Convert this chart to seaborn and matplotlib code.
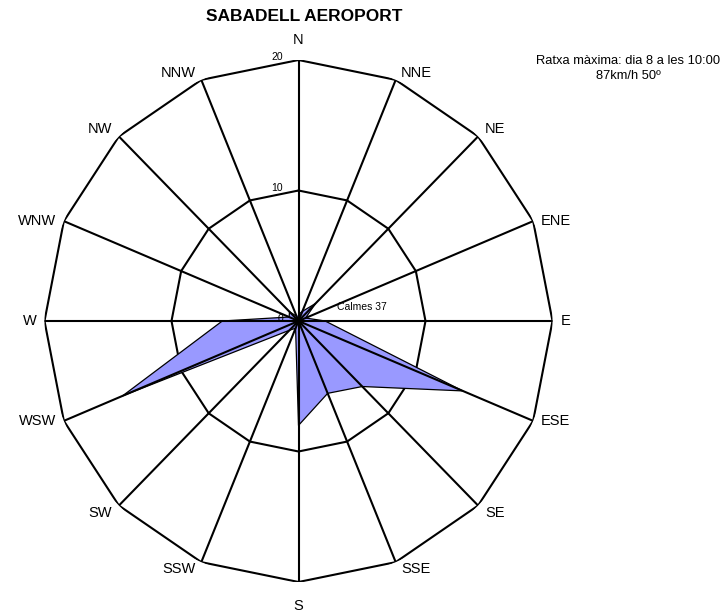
import numpy as np
import matplotlib
matplotlib.use('Agg')
import matplotlib.pyplot as plt
import seaborn as sns

# wind rose data (frequency per direction)
directions = ['N', 'NNE', 'NE', 'ENE', 'E', 'ESE', 'SE', 'SSE',
              'S', 'SSW', 'SW', 'WSW', 'W', 'WNW', 'NW', 'NNW']
values = [0.5, 0.8, 1.9, 0.6, 2.1, 14.0, 7.1, 6.0,
          8.0, 0.6, 1.0, 15.0, 6.0, 0.8, 1.0, 0.4]
ring_levels = [10, 20]
ring_labels = ['0', '10', '20']
title = 'SABADELL AEROPORT'
gust_text = 'Ratxa màxima: dia 8 a les 10:00\n87km/h 50º'
calm_text = 'Calmes 37'

sns.set_style('white')
plt.rcParams['font.family'] = ['Liberation Sans', 'DejaVu Sans']
plt.rcParams['text.color'] = 'black'

fig = plt.figure(figsize=(7.28, 6.16), dpi=100)
ax = fig.add_axes([44.5 / 728, (616 - 582) / 616, 508 / 728, 522 / 616], projection='polar')
ax.set_theta_zero_location('N')
ax.set_theta_direction(-1)
ax.set_aspect('auto')
ax.set_ylim(0, 20)
ax.grid(False)
ax.spines['polar'].set_visible(False)
ax.set_xticks([])
ax.set_yticks([])

theta = np.deg2rad(np.arange(len(directions)) * 360 / len(directions))
theta_c = np.append(theta, theta[0])
vals_c = np.append(values, values[0])

# polygon rings
for r in ring_levels:
    ax.plot(theta_c, [r] * len(theta_c), color='black', lw=1.5, zorder=1)

# data polygon
ax.fill(theta_c, vals_c, color='#9999ff', zorder=2, lw=0)
sns.lineplot(x=theta_c, y=vals_c, sort=False, ax=ax, color='black', lw=0.9, zorder=3)
ax.set_xlabel('')
ax.set_ylabel('')

# spokes
for t in theta:
    ax.plot([t, t], [0, 20], color='black', lw=1.5, zorder=4, solid_capstyle='butt')

# direction labels
for t, name in zip(theta, directions):
    s, c = np.sin(t), np.cos(t)
    ha = 'left' if s > 0.1 else ('right' if s < -0.1 else 'center')
    if abs(s) < 0.1:
        va = 'bottom' if c > 0 else 'top'
        dx, dy = 0, (13 if c > 0 else -17)
    else:
        va = 'bottom' if c > 0.5 else ('top' if c < -0.5 else 'center')
        dx, dy = 8 * np.sign(s) * (0.5 + 0.5 * abs(s)), 0
    ax.annotate(name, (t, 20), xytext=(dx * 0.72, dy * 0.72), textcoords='offset points',
                ha=ha, va=va, fontsize=10.5, color='black', annotation_clip=False)

# radial labels
for lab in ring_labels:
    ax.annotate(lab, (0, float(lab)), xytext=(-11, 1.8), textcoords='offset points',
                ha='right', va='center', fontsize=7.5, color='black', zorder=5,
                annotation_clip=False)

fig.text(304 / 728, 1 - 16.5 / 616, title, ha='center', va='center',
         fontsize=12.5, fontweight='bold', color='black')
fig.text(628 / 728, 1 - 68.5 / 616, gust_text, ha='center', va='center',
         fontsize=9.3, multialignment='center', linespacing=1.25, color='black')
fig.text(337 / 728, 1 - 307 / 616, calm_text, ha='left', va='center', fontsize=7.5,
         color='black')

fig.savefig('out.png', dpi=100)
